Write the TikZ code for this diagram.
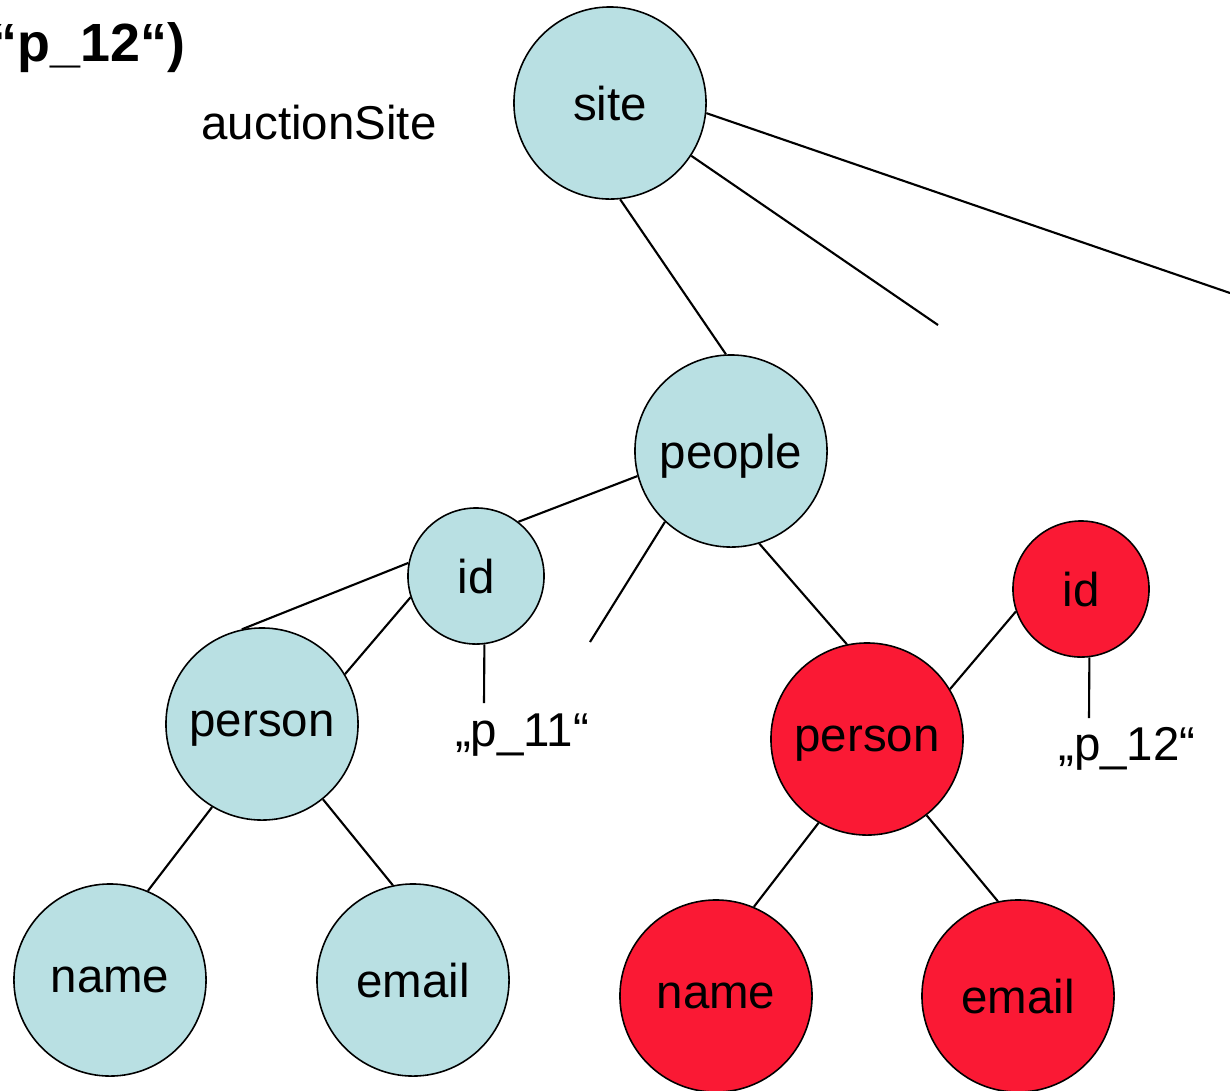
\documentclass[tikz,border=0pt]{standalone}
\usepackage{fontspec}
\setmainfont{Liberation Sans}
\usepackage{tikz}
\usetikzlibrary{positioning}
\definecolor{treeBlue}{RGB}{185,224,227}
\definecolor{treeRed}{RGB}{250,25,52}
\tikzset {
	bigNode/.style={circle, draw, line width=.45pt, inner sep=0pt, minimum size=1.92cm, text depth=0pt},
	smallNode/.style={circle, draw, line width=.45pt, inner sep=0pt, minimum size=1.36cm, text depth=0pt},
	blueNode/.style={fill=treeBlue},
	redNode/.style={fill=treeRed},
	leafText/.style={inner sep=0pt},
	edge/.style={line width=.6pt}
}

\begin{document}
\begin{tikzpicture}[x=0.01cm, y=-0.01cm, font=\fontsize{13.5}{16}\selectfont]
					\useasboundingbox (0,0) rectangle (1230,1090);
					\node [anchor=east, inner sep=0pt, font=\fontsize{15.3}{18}\selectfont\bfseries] (query) at (186,48) {“p\_12“)};
					\node [leafText] (auction) at (319,123) {auctionSite};
					% left part of the tree
					\node [bigNode, blueNode] (site) at (610,103) {site};
					\node [bigNode, blueNode] (people) at (731,451) {people};
					\node [smallNode, blueNode] (idA) at (476,576) {id};
					\node [bigNode, blueNode] (personA) at (262,724) {person};
					\node [bigNode, blueNode] (nameA) at (110,980) {name};
					\node [bigNode, blueNode] (emailA) at (413,980) {email};
					\node [leafText] (valA) at (522,735) {„p\_11“};
					% matched person
					\node [bigNode, redNode] (personB) at (867,739) {person};
					\node [smallNode, redNode] (idB) at (1081,589) {id};
					\node [bigNode, redNode] (nameB) at (716,996) {name};
					\node [bigNode, redNode] (emailB) at (1018,996) {email};
					\node [leafText] (valB) at (1127,749) {„p\_12“};
					% loose ends
					\coordinate (siteEndA) at (938,325);
					\coordinate (siteEndB) at (1230,293);
					\coordinate (peopleEnd) at (590,642);
					\coordinate (valATop) at (484,703);
					\coordinate (valBTop) at (1089,718);

					\draw [edge] (site.-84) -- (people.93);
					\draw [edge] (site.-33) -- (siteEndA);
					\draw [edge] (site.-6) -- (siteEndB);
					\draw [edge] (people.-165) -- (idA.52);
					\draw [edge] (people.-133) -- (peopleEnd);
					\draw [edge] (people.-73) -- (personB.102);
					\draw [edge] (idA.169) -- (personA.102);
					\draw [edge] (idA.-162) -- (personA.31);
					\draw [edge] (idA.-83) -- (valATop);
					\draw [edge] (personA.-121) -- (nameA.67);
					\draw [edge] (personA.-51) -- (emailA.102);
					\draw [edge] (personB.31) -- (idB.-161);
					\draw [edge] (idB.-83) -- (valBTop);
					\draw [edge] (personB.-120) -- (nameB.67);
					\draw [edge] (personB.-52) -- (emailB.102);
\end{tikzpicture}
\end{document}
